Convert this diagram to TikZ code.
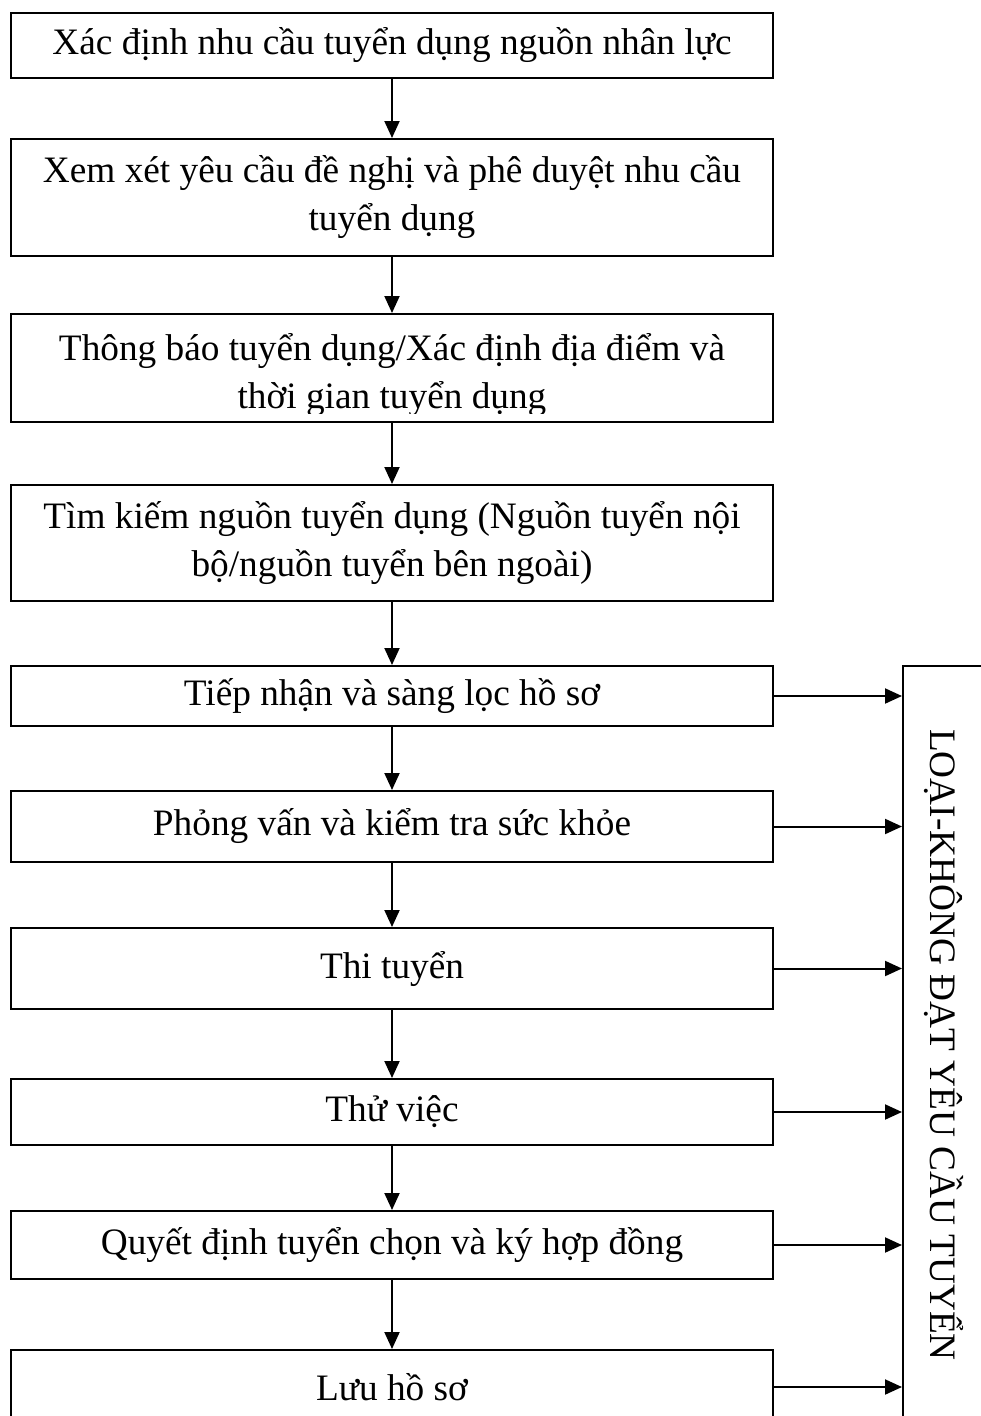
\documentclass[tikz,border=0pt]{standalone}
\usepackage{fontspec}
\setmainfont{Liberation Serif}
\usetikzlibrary{arrows.meta,calc}
\begin{document}
\begin{tikzpicture}[x=1pt,y=-1pt,
  stepfont/.style={font=\fontsize{37.3}{48}\selectfont},
  stepbox/.style={draw, line width=2pt, minimum width=762pt, inner sep=0pt,
    align=center, stepfont},
  steptext/.style={inner sep=0pt, align=center, stepfont},
  rejectbox/.style={draw, line width=2pt, rotate=-90, minimum width=758pt,
    minimum height=82pt, inner sep=0pt, stepfont},
  flow/.style={line width=2pt, -{Triangle[length=17pt,width=15pt]}},
]
\clip (0,0) rectangle (981,1416);

% main chain of steps
\node[stepbox, minimum height=65pt]  (b1) at (392,45.5) {Xác định nhu cầu tuyển dụng nguồn nhân lực};
\node[stepbox, minimum height=117pt] (b2) at (392,197.5) {Xem xét yêu cầu đề nghị và phê duyệt nhu cầu\\tuyển dụng};
\node[stepbox, minimum height=108pt] (b3) at (392,368) {};
\begin{scope}
  % the text frame of this step cuts off the lower line's descenders
  \clip ($(b3.north west)+(2,2)$) rectangle ($(b3.south east)+(-2,-10)$);
  \node[steptext] (t3) at ($(b3.center)+(0,7)$) {Thông báo tuyển dụng/Xác định địa điểm và\\thời gian tuyển dụng};
\end{scope}
\node[stepbox, minimum height=116pt] (b4) at (392,543) {Tìm kiếm nguồn tuyển dụng (Nguồn tuyển nội\\bộ/nguồn tuyển bên ngoài)};
\node[stepbox, minimum height=60pt]  (b5) at (392,696) {Tiếp nhận và sàng lọc hồ sơ};
\node[stepbox, minimum height=71pt]  (b6) at (392,826.5) {Phỏng vấn và kiểm tra sức khỏe};
\node[stepbox, minimum height=81pt]  (b7) at (392,968.5) {Thi tuyển};
\node[stepbox, minimum height=66pt]  (b8) at (392,1112) {Thử việc};
\node[stepbox, minimum height=68pt]  (b9) at (392,1245) {Quyết định tuyển chọn và ký hợp đồng};
\node[stepbox, minimum height=74pt]  (b10) at (392,1387) {Lưu hồ sơ};

% rejection column
\node[rejectbox] (reject) at (944,1045) {LOẠI-KHÔNG ĐẠT YÊU CẦU TUYỂN};

% downward flow
\foreach \a/\b in {b1/b2,b2/b3,b3/b4,b4/b5,b5/b6,b6/b7,b7/b8,b8/b9,b9/b10}
  \draw[flow] (\a.south) -- (\b.north);

% rejection arrows
\foreach \s in {b5,b6,b7,b8,b9,b10}
  \draw[flow] (\s.east) -- (\s.east -| reject.south);
\end{tikzpicture}
\end{document}
